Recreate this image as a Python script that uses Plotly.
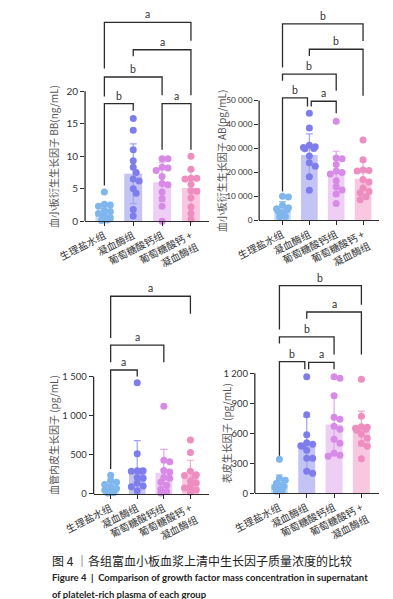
import plotly.graph_objects as go

# ---------------- data ----------------
groups = ["生理盐水组", "凝血酶组", "葡萄糖酸钙组", "葡萄糖酸钙 +<br>凝血酶组"]

bb_points = [
    [4.5, 2.6, 2.5, 2.3, 1.7, 1.5, 1.2, 0.8, 0.5, 0.4, 0.2, 0.1],
    [15.8, 14.0, 11.0, 9.3, 8.3, 7.5, 6.5, 6.2, 5.0, 4.3, 1.8, 0.8],
    [9.6, 9.6, 8.3, 8.2, 7.8, 6.9, 5.8, 5.6, 4.5, 3.5, 2.3, 0.0],
    [10.0, 8.0, 6.6, 6.6, 6.5, 5.7, 4.7, 4.6, 3.6, 2.2, 1.2, 0.3],
]
bb_mean = [1.5, 7.3, 6.0, 5.1]
bb_sd = [1.3, 4.6, 3.0, 2.8]

ab_points = [
    [10000, 9700, 6200, 5200, 4800, 4300, 3800, 3000, 2200, 1800, 1600, 1400],
    [44700, 38500, 31300, 30700, 30400, 30000, 29800, 26800, 24000, 22500, 18200, 12500],
    [41300, 26000, 25700, 23300, 20600, 19900, 19300, 16500, 14000, 12600, 10900, 7000],
    [33500, 25300, 21000, 20800, 20600, 17000, 16000, 13500, 12000, 11500, 9800, 8500],
]
ab_mean = [4800, 27200, 19500, 17300]
ab_sd = [3000, 8900, 9300, 7200]

vegf_points = [
    [240, 170, 150, 120, 95, 70, 50, 40, 30, 20, 15, 10],
    [1420, 515, 295, 295, 290, 290, 210, 200, 140, 100, 90, 40],
    [1120, 430, 410, 300, 280, 210, 200, 150, 110, 60, 30, 10],
    [690, 530, 290, 245, 235, 225, 165, 140, 95, 75, 50, 20],
]
vegf_mean = [65, 290, 270, 240]
vegf_sd = [95, 390, 300, 190]

egf_points = [
    [340, 150, 130, 100, 85, 70, 60, 50, 40, 35, 25, 20],
    [1165, 785, 585, 505, 490, 475, 470, 430, 350, 350, 220, 200],
    [1165, 1150, 975, 760, 740, 670, 640, 540, 500, 400, 380, 370],
    [1140, 770, 665, 660, 650, 640, 630, 590, 550, 500, 470, 345],
]
egf_mean = [93, 500, 688, 645]
egf_sd = [90, 265, 297, 175]

# significance brackets: (group a, group b, bar level, left leg end, right leg end, label)
bb_sig = [(0, 3, 30.6, 23.5, 27.8, "a"), (1, 3, 26.4, 25.4, 19.4, "a"),
          (0, 2, 22.2, 19.2, 19.4, "b"), (0, 1, 18.1, 5.5, 17.0, "b"),
          (2, 3, 18.1, 11.0, 11.0, "a")]
ab_sig = [(0, 3, 82000, 63800, 74900, "b"), (1, 3, 71400, 68600, 52000, "b"),
          (0, 2, 61000, 58300, 54100, "b"), (0, 1, 51100, 12000, 47500, "b"),
          (1, 2, 49700, 47500, 44700, "a")]
vegf_sig = [(0, 3, 2527, 1994, 2303, "a"), (0, 2, 1901, 1682, 1682, "a"),
            (0, 1, 1584, 317, 1500, "a")]
egf_sig = [(0, 3, 2076, 1636, 1884, "b"), (1, 3, 1812, 1745, 1388, "a"),
           (0, 2, 1564, 1497, 1388, "b"), (0, 1, 1316, 374, 1240, "b"),
           (1, 2, 1309, 1240, 1240, "a")]

# ---------------- styling ----------------
W, H = 393, 599
point_colors = ["#7fb6ee", "#7f7dec", "#d78ae6", "#ee8dbf"]
err_colors = ["#9cc6f2", "#a3a1f0", "#dfa6ec", "#f2a9cf"]
bar_colors = ["#c6ddf7", "#c3c3f6", "#efcef5", "#f9c8e0"]
INK = "#2b2b2b"
CJK = "Noto Sans CJK SC"
NUM = "Lato"

panels = [
    dict(pts=bb_points, mean=bb_mean, sd=bb_sd, sig=bb_sig,
         title="血小板衍生生长因子 BB(ng/mL)",
         tickvals=[0, 5, 10, 15, 20], ticktext=["0", "5", "10", "15", "20"], tfs=10,
         xpx=(50, 185), xr=(-0.67, 3.64), ypx=(215, 3), ytop=32.37, tpx=15),
    dict(pts=ab_points, mean=ab_mean, sd=ab_sd, sig=ab_sig,
         title="血小板衍生生长因子 AB(pg/mL)",
         tickvals=[0, 10000, 20000, 30000, 40000, 50000],
         ticktext=["0", "10 000", "20 000", "30 000", "40 000", "50 000"],
         tfs=8.3,
         xpx=(239, 369), xr=(-0.87, 3.59), ypx=(214, 3), ytop=87400, tpx=198.5),
    dict(pts=vegf_points, mean=vegf_mean, sd=vegf_sd, sig=vegf_sig,
         title="血管内皮生长因子 (pg/mL)",
         tickvals=[0, 500, 1000, 1500], ticktext=["0", "500", "1 000", "1 500"], tfs=9.5,
         xpx=(59.3, 184.3), xr=(-0.64, 3.69), ypx=(490, 275), ytop=2726, tpx=15),
    dict(pts=egf_points, mean=egf_mean, sd=egf_sd, sig=egf_sig,
         title="表皮生长因子 (pg/mL)",
         tickvals=[0, 300, 600, 900, 1200], ticktext=["0", "300", "600", "900", "1 200"],
         tfs=9.5,
         xpx=(234.3, 369), xr=(-0.9, 3.64), ypx=(489.3, 275), ytop=2125, tpx=203),
]


def swarm(vals, px_x, px_y, d=6.4):
    placed, out = [], [0.0] * len(vals)
    order = sorted(range(len(vals)), key=lambda i: -vals[i])
    step = d * 0.5
    cands = [0]
    for k in range(1, 8):
        cands += [k, -k]
    for i in order:
        y = vals[i] * px_y
        best = None
        for k in cands:
            x = k * step
            if abs(x) > 8.5:
                continue
            if all((x - a) ** 2 + (y - b) ** 2 >= (d * 0.85) ** 2 for a, b in placed):
                best = x
                break
        if best is None:
            best = cands[len(placed) % 7] * step * 0.5
        placed.append((best, y))
        out[i] = best / px_x
    return out


fig = go.Figure()
layout = dict(width=W, height=H, margin=dict(l=0, r=0, t=0, b=0),
              paper_bgcolor="white", plot_bgcolor="white", showlegend=False,
              font=dict(family=NUM, color=INK))
shapes, annotations = [], []

for p_i, p in enumerate(panels):
    n = "" if p_i == 0 else str(p_i + 1)
    xa, ya = "x" + n, "y" + n
    x0px, x1px = p["xpx"]
    ybot, ytoppx = p["ypx"]
    px_x = (x1px - x0px) / (p["xr"][1] - p["xr"][0])
    px_y = (ybot - ytoppx) / p["ytop"]

    for g in range(4):
        fig.add_trace(go.Bar(
            x=[g], y=[p["mean"][g]], width=0.62,
            marker=dict(color=bar_colors[g], line=dict(width=0)),
            error_y=dict(type="data", array=[p["sd"][g]], visible=True, thickness=1.2,
                         width=3.5, color=err_colors[g]),
            xaxis=xa, yaxis=ya, hoverinfo="skip"))
    for g in range(4):
        offs = swarm(p["pts"][g], px_x, px_y)
        fig.add_trace(go.Scatter(
            x=[g + o for o in offs], y=p["pts"][g], mode="markers",
            marker=dict(color=point_colors[g], size=7, line=dict(width=0)),
            xaxis=xa, yaxis=ya, hoverinfo="skip", cliponaxis=False))

    layout["xaxis" + n] = dict(
        domain=[x0px / W, x1px / W], range=list(p["xr"]), anchor=ya,
        tickvals=[0, 1, 2, 3], ticktext=groups, tickangle=-27,
        ticks="outside", ticklen=4, tickwidth=1.2, tickcolor=INK,
        showline=True, linecolor=INK, linewidth=1.3, showgrid=False, zeroline=False,
        tickfont=dict(family=CJK, size=10, color="#333"))
    layout["yaxis" + n] = dict(
        domain=[1 - ybot / H, 1 - ytoppx / H], range=[0, p["ytop"]], anchor=xa,
        tickvals=p["tickvals"], ticktext=p["ticktext"],
        ticks="outside", ticklen=4, tickwidth=1.2, tickcolor=INK,
        showline=False, showgrid=False, zeroline=False,
        tickfont=dict(family=NUM, size=p["tfs"], color="#333"))
    # visible y axis line only up to the top tick
    shapes.append(dict(type="line", xref=xa + " domain", yref=ya, x0=0, x1=0,
                       y0=0, y1=p["tickvals"][-1], line=dict(color=INK, width=1.3)))
    # y axis title centred on the visible axis
    ymid_px = ybot - (p["tickvals"][-1] * px_y) / 2
    annotations.append(dict(text=p["title"], x=p["tpx"] / W, y=1 - ymid_px / H,
                            xref="paper", yref="paper", textangle=-90, showarrow=False,
                            font=dict(family=CJK, size=10, color="#555"),
                            xanchor="center", yanchor="middle"))
    # brackets; legs of neighbouring brackets that meet at one group are nudged apart
    sig = p["sig"]
    for (a, b, lvl, la, lb, lab) in sig:
        xa_, xb_ = float(a), float(b)
        for (a2, b2, lvl2, _, _, _) in sig:
            if abs(lvl2 - lvl) < 0.05 * p["ytop"] and (a2, b2) != (a, b):
                if a2 == b:
                    xb_ -= 0.07
                if b2 == a:
                    xa_ += 0.07
        shapes.append(dict(type="path", xref=xa, yref=ya,
                           path=f"M {xa_},{la} L {xa_},{lvl} L {xb_},{lvl} L {xb_},{lb}",
                           line=dict(color=INK, width=1.3)))
        annotations.append(dict(text=lab, x=(xa_ + xb_) / 2, y=lvl, xref=xa, yref=ya,
                                showarrow=False, yanchor="bottom", yshift=0,
                                font=dict(family=NUM, size=10.5, color="#333")))

# caption
annotations += [
    dict(text="图 4 ｜各组富血小板血浆上清中生长因子质量浓度的比较", x=12 / W, y=1 - 557 / H,
         xref="paper", yref="paper", showarrow=False, xanchor="left", yanchor="middle",
         font=dict(family=CJK, size=12, color="#222")),
    dict(text="<b>Figure 4  |  Comparison of growth factor mass concentration in supernatant</b>",
         x=12 / W, y=1 - 574 / H, xref="paper", yref="paper", showarrow=False,
         xanchor="left", yanchor="middle", font=dict(family="Lato", size=9.5, color="#222")),
    dict(text="<b>of platelet-rich plasma of each group</b>", x=12 / W, y=1 - 591 / H,
         xref="paper", yref="paper", showarrow=False, xanchor="left", yanchor="middle",
         font=dict(family="Lato", size=9.5, color="#222")),
]

layout["shapes"] = shapes
layout["annotations"] = annotations
fig.update_layout(**layout)
fig.write_html("out.html")
